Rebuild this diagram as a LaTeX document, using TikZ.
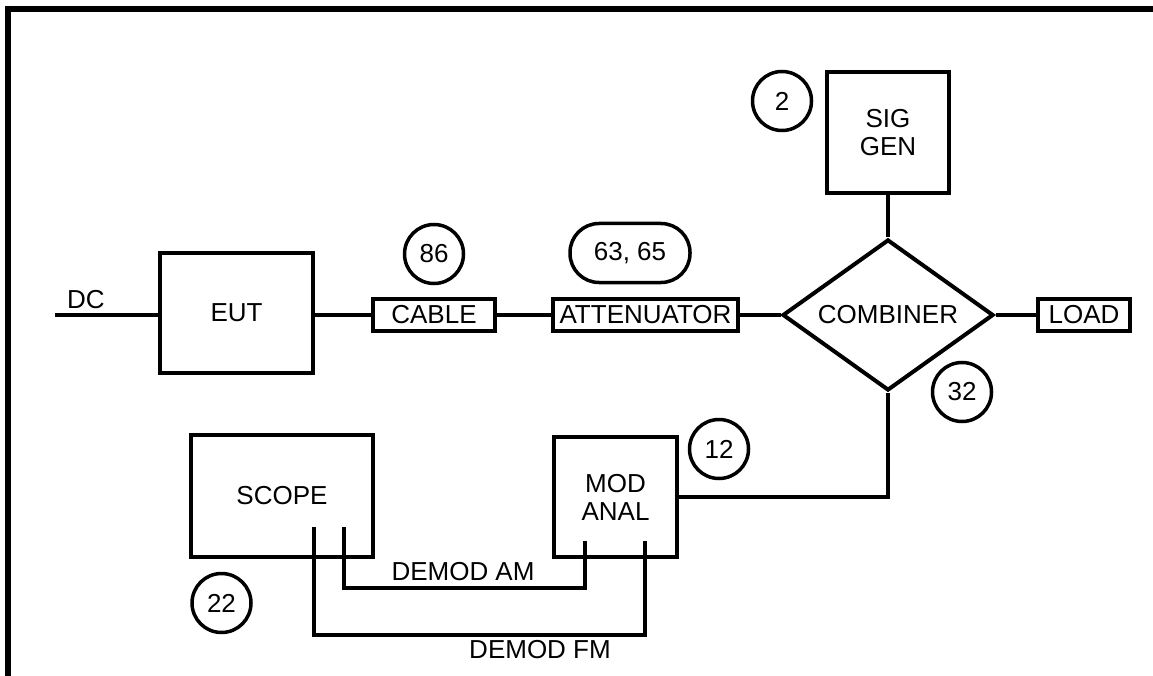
\documentclass[tikz,border=0pt]{standalone}
\usepackage{fontspec}
\setmainfont{Liberation Sans}
\usepackage{tikz}
\usetikzlibrary{shapes.geometric,calc}
\tikzset{
  wire/.style={line width=4pt,line cap=butt,line join=miter},
  tBox/.style={draw,line width=4pt,align=center,inner sep=0pt,
        font=\fontsize{26}{28}\selectfont},
  tBig/.style={tBox,minimum width=122pt,minimum height=121pt},
  tSlim/.style={tBox,minimum height=32pt},
  tTag/.style={draw,circle,line width=3.5pt,inner sep=0pt,minimum size=59pt,
        font=\fontsize{26}{28}\selectfont},
  tPill/.style={tTag,rectangle,rounded corners=29pt,minimum width=120pt,
        minimum height=59pt},
  tCombo/.style={tBox,diamond,aspect=1.4,minimum width=211pt,minimum height=151pt},
  tText/.style={inner sep=0pt,font=\fontsize{26}{28}\selectfont},
}
\begin{document}
\begin{tikzpicture}[x=1pt,y=-1pt]
\useasboundingbox (0,0) rectangle (1153,676);
% frame
\draw[line width=6pt] (8,680) -- (8,9) -- (1160,9);
% main chain
\coordinate (dc) at (55,315);
\node[tText]  (dcl) at (86,300)   {DC};
\node[tBox,minimum width=153pt,minimum height=119pt] (eut) at (236.5,313) {EUT};
\node[tSlim,minimum width=122pt] (cable) at (434,315) {CABLE};
\node[tSlim,minimum width=185pt] (att) at (645.5,315) {ATTENUATOR};
\node[tCombo] (comb) at (888,315) {COMBINER};
\node[tSlim,minimum width=92pt] (load) at (1084,315) {LOAD};
\node[tBig] (sig) at (888,132.5) {SIG\\GEN};
% test gear
\node[tBox,minimum width=123pt,minimum height=120pt] (mod) at (615.5,497) {MOD\\ANAL};
\node[tBox,minimum width=182pt,minimum height=122pt] (scope) at (282,496) {SCOPE};
% item tags
\node[tTag]  (t86) at (434,254) {86};
\node[tPill] (t63) at (630,253) {63, 65};
\node[tTag]  (t2)  at (782,101) {2};
\node[tTag]  (t32) at (962,392) {32};
\node[tTag]  (t12) at (719,449) {12};
\node[tTag]  (t22) at (221.5,603) {22};
\draw[wire] (dc) -- (dc -| eut.west);
\draw[wire] (eut.east |- dc) -- (cable);
\draw[wire] (cable) -- (att);
\draw[wire] (att) -- (comb);
\draw[wire] (comb) -- (load);
\draw[wire] (sig) -- (comb);
\draw[wire] (mod.east) -| (comb.south);
% demod leads
\coordinate (amS) at (344,527);
\coordinate (amM) at (585,541);
\coordinate (amY) at (0,588);
\coordinate (fmS) at (314,527);
\coordinate (fmM) at (645,541);
\coordinate (fmY) at (0,635);
\draw[wire] (amS) |- (amM |- amY) -- (amM);
\draw[wire] (fmS) |- (fmM |- fmY) -- (fmM);
\node[tText] (aml) at (463,572) {DEMOD AM};
\node[tText] (fml) at (540,650) {DEMOD FM};
\end{tikzpicture}
\end{document}
